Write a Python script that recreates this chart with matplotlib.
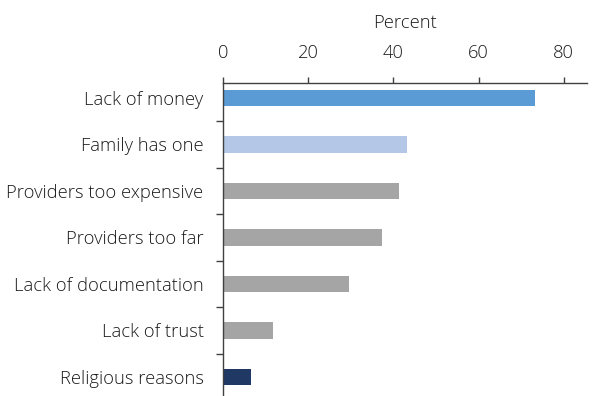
import matplotlib
matplotlib.use("Agg")
import matplotlib.pyplot as plt
import numpy as np

categories = ["Lack of money", "Family has one", "Providers too expensive",
              "Providers too far", "Lack of documentation", "Lack of trust",
              "Religious reasons"]
values = [73.2, 43.2, 41.3, 37.3, 29.6, 11.7, 6.6]
colors = ["#5B9BD5", "#B4C7E7", "#A5A5A5", "#A5A5A5", "#A5A5A5", "#A5A5A5", "#1F3864"]
xticks = [0, 20, 40, 60, 80]

plt.rcParams['font.family'] = ['Open Sans', 'DejaVu Sans']
FS = 13.2
TC = "#1a1a1a"
W = 'light'
fig = plt.figure(figsize=(6, 3.96), dpi=100)
ax = fig.add_axes([223/600, 0.0, (586.7-223)/600, 1-83/396])

y = np.arange(len(categories))
ax.barh(y, values, height=0.36, color=colors)
ax.set_ylim(6.41, -0.32)
ax.set_xlim(0, 85.4)

ax.xaxis.tick_top()
ax.xaxis.set_label_position('top')
ax.set_xticks(xticks)
ax.set_xticklabels([str(t) for t in xticks], fontsize=FS, color=TC, fontweight=W)
ax.set_xlabel("Percent", fontsize=FS, color=TC, labelpad=12, fontweight=W)
ax.tick_params(axis='x', direction='out', length=4, width=1, color="#404040", pad=11)

ax.set_yticks(y)
ax.set_yticklabels(categories, fontsize=FS, color=TC, fontweight=W)
ax.tick_params(axis='y', which='major', length=0, pad=14)
ax.set_yticks(y[:-1] + 0.5, minor=True)
ax.tick_params(axis='y', which='minor', direction='out', length=5, width=1, color="#404040")

for s in ['right', 'bottom']:
    ax.spines[s].set_visible(False)
for s in ['top', 'left']:
    ax.spines[s].set_color("#404040")
    ax.spines[s].set_linewidth(1)

fig.savefig("out.png", dpi=100)
